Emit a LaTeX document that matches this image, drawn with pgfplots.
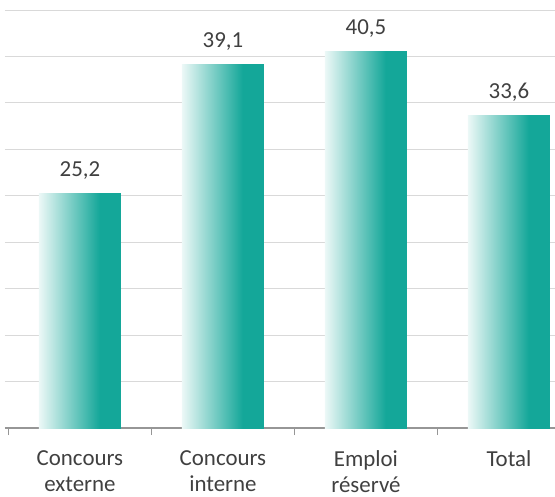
\documentclass[border=0pt]{standalone}
\usepackage{fontspec}
\setmainfont{Carlito}
\usepackage{pgfplots}
\pgfplotsset{compat=1.18}

\definecolor{tealc}{RGB}{20,167,153}
\definecolor{gridc}{RGB}{217,217,217}
\definecolor{axisc}{RGB}{150,150,150}
\definecolor{txtc}{RGB}{64,64,64}

% white on the left, solid teal from about 3/4 of the bar
\pgfdeclarehorizontalshading{barshade}{100bp}{color(0bp)=(white); color(25bp)=(white!92!tealc); color(62bp)=(tealc); color(100bp)=(tealc)}

\pgfplotsset{
  gbar/.style={ybar, bar width=82bp, bar shift=0pt, draw=none, shading=barshade,
    nodes near coords={\pgfmathprintnumber[fixed,fixed zerofill,precision=1,use comma,assume math mode=true]{\pgfplotspointmeta}},
    every node near coord/.append style={anchor=base, yshift=17bp, font=\fontsize{23}{27}\selectfont, text=txtc}},
}

\begin{document}
\begin{tikzpicture}
\begin{axis}[
    scale only axis,
    width=550bp, height=418bp,
    xmin=-0.524, xmax=3.322,
    ymin=0, ymax=45,
    axis x line*=bottom,
    axis y line*=left,
    x axis line style={draw=axisc, line width=1.3bp, -},
    y axis line style={draw=none},
    ytick={5,10,...,45},
    yticklabels={},
    ytick style={draw=none},
    ymajorgrids,
    grid style={draw=gridc, line width=1bp},
    xtick={0,1,2,3},
    xticklabels={{Concours\\externe},{Concours\\interne},{Emploi\\réservé},{Total}},
    minor xtick={-0.5,0.5,1.5,2.5},
    major tick length=0pt,
    minor tick length=7bp,
    tick align=outside,
    minor x tick style={draw=axisc, line width=1.3bp},
    xticklabel style={align=center, font=\fontsize{23}{26}\selectfont, text=txtc, yshift=-19bp},
    clip=false,
]
\addplot[gbar] coordinates {(0,25.2)};
\addplot[gbar] coordinates {(1,39.1)};
\addplot[gbar] coordinates {(2,40.5)};
\addplot[gbar] coordinates {(3,33.6)};
\end{axis}
\pgfresetboundingbox
\path[use as bounding box] (-5bp,-69bp) rectangle (550bp,428bp);
\end{tikzpicture}
\end{document}
